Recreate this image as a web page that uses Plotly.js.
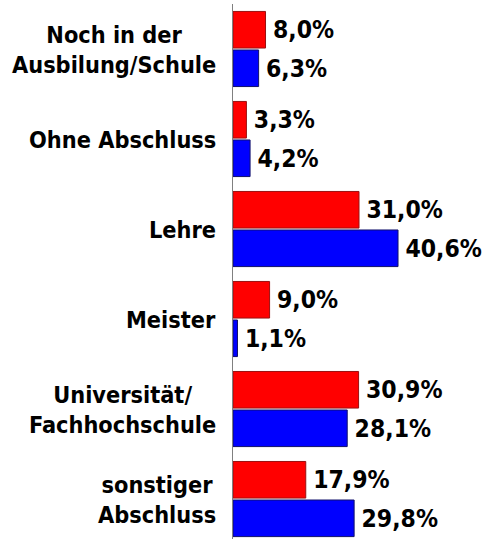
<!DOCTYPE html>
<html>
<head>
<meta charset="utf-8">
<script src="https://cdn.plot.ly/plotly-3.0.1.min.js"></script>
<style>html,body{margin:0;padding:0;background:#fff;}#chart{width:485px;height:539px;}</style>
</head>
<body>
<div id="chart"></div>
<script>
const categories = ["Noch in der<br>Ausbilung/Schule", "Ohne Abschluss", "Lehre", "Meister", "Universität/<br>Fachhochschule", "sonstiger<br>Abschluss"];
const catKeys = ["c0", "c1", "c2", "c3", "c4", "c5"];
const redValues = [8.0, 3.3, 31.0, 9.0, 30.9, 17.9];
const blueValues = [6.3, 4.2, 40.6, 1.1, 28.1, 29.8];

const fmt = v => '\u2009' + v.toFixed(1).replace('.', ',') + '%';
const FONT = 'DejaVu Sans Condensed, DejaVu Sans, sans-serif';

const traces = [
  {type: 'bar', orientation: 'h', y: catKeys, x: redValues, text: redValues.map(fmt),
   textposition: 'outside', cliponaxis: false,
   textfont: {family: FONT, size: 24.5, color: '#000', weight: 'bold'},
   marker: {color: '#ff0000', line: {color: '#9a1010', width: 1}}, hoverinfo: 'none'},
  {type: 'bar', orientation: 'h', y: catKeys, x: blueValues, text: blueValues.map(fmt),
   textposition: 'outside', cliponaxis: false,
   textfont: {family: FONT, size: 24.5, color: '#000', weight: 'bold'},
   marker: {color: '#0000ff', line: {color: '#10106a', width: 1}}, hoverinfo: 'none'}
];

const annotations = categories.map((c, i) => ({
  text: c, xref: 'paper', yref: 'y', x: -0.06, y: catKeys[i],
  xanchor: 'right', yanchor: 'middle', align: 'center', showarrow: false,
  font: {family: FONT, size: 23.3, color: '#000', weight: 'bold'}
}));

const layout = {
  width: 485, height: 539,
  margin: {l: 233, r: 0, t: 4, b: 0, pad: 0},
  paper_bgcolor: '#fff', plot_bgcolor: '#fff',
  barmode: 'group', bargap: 0.144, bargroupgap: 0.05,
  showlegend: false,
  xaxis: {range: [0, 62], visible: false, fixedrange: true},
  yaxis: {type: 'category', range: [5.444, -0.5], showticklabels: false, ticks: '',
          showgrid: false, zeroline: false, showline: true, linecolor: '#808080', linewidth: 1},
  annotations: annotations
};

Plotly.newPlot('chart', traces, layout, {displayModeBar: false, staticPlot: true});
</script>
</body>
</html>
